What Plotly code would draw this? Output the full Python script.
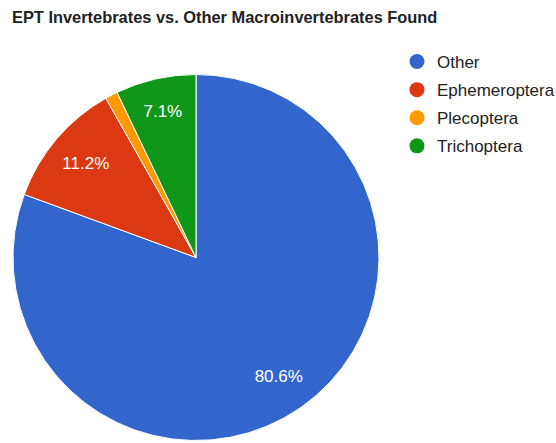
import plotly.graph_objects as go

labels = ["Other", "Ephemeroptera", "Plecoptera", "Trichoptera"]
values = [80.6, 11.2, 1.1, 7.1]
colors = ["#3366cc", "#dc3912", "#ff9900", "#109618"]
text_templates = ["%{percent:.1%}", "%{percent:.1%}", "", "%{percent:.1%}"]

W, H = 556, 443
cx, cy, r = 196, 257.5, 183
dom = dict(x=[(cx - r) / W, (cx + r) / W], y=[(H - cy - r) / H, (H - cy + r) / H])
font_fam = "Arial, Liberation Sans"

fig = go.Figure()
fig.add_trace(go.Pie(
    labels=labels, values=values, sort=False, direction="clockwise", rotation=0,
    marker=dict(colors=colors, line=dict(color="white", width=1)),
    textinfo="none", showlegend=False, hoverinfo="label+percent", domain=dom,
))
# transparent ring overlay to place percentage labels at ~0.78 radius
fig.add_trace(go.Pie(
    labels=labels, values=values, sort=False, direction="clockwise", rotation=0,
    hole=0.58,
    marker=dict(colors=["rgba(0,0,0,0)"] * 4, line=dict(width=0)),
    texttemplate=text_templates, textposition="inside",
    insidetextorientation="horizontal",
    textfont=dict(color="white", size=17, family=font_fam),
    showlegend=False, hoverinfo="skip", domain=dom,
))
for i, (lab, col) in enumerate(zip(labels, colors)):
    fig.add_trace(go.Scatter(
        x=[None], y=[None], mode="markers", name=lab, legendgroup=f"g{i}",
        marker=dict(color=col, size=15, symbol="circle"),
    ))

fig.update_layout(
    width=W, height=H,
    margin=dict(l=0, r=0, t=0, b=0, autoexpand=False),
    paper_bgcolor="white", plot_bgcolor="white",
    xaxis=dict(visible=False), yaxis=dict(visible=False),
    title=dict(text="<b>EPT Invertebrates vs. Other Macroinvertebrates Found</b>",
               x=12 / W, xanchor="left", xref="container",
               y=1 - 17 / H, yanchor="middle", yref="container",
               font=dict(size=16.4, color="#222222", family=font_fam)),
    legend=dict(x=0.714, xanchor="left", y=1 - 44 / H, yanchor="top",
                font=dict(size=17, color="#222222", family=font_fam),
                tracegroupgap=3, itemwidth=30, bgcolor="rgba(0,0,0,0)"),
)
fig.write_html("out.html")
